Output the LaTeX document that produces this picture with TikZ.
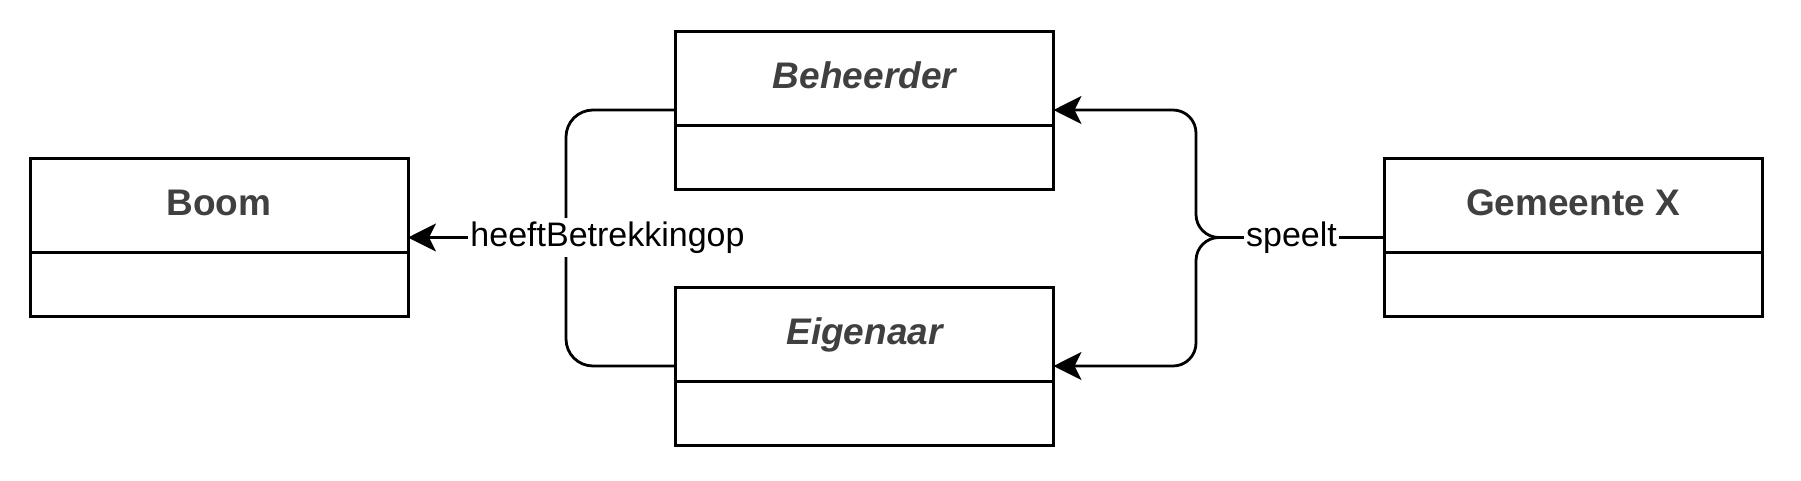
\documentclass[tikz,border=0pt]{standalone}
\usepackage{fontspec}
\setmainfont{Liberation Sans}
\usepackage{tikz}
\usetikzlibrary{positioning, arrows.meta}
\definecolor{titlegray}{HTML}{404040}

\begin{document}
\begin{tikzpicture}[x=1pt, y=-1pt,
		classbox/.style={draw, line width=3pt, minimum width=378pt, minimum height=158pt, inner sep=0pt, outer sep=0pt},
		classname/.style={font=\fontsize{37}{44}\selectfont\bfseries, text=titlegray, text height=26.5pt, text depth=0pt},
		abstractname/.style={classname, font=\fontsize{37}{44}\selectfont\bfseries\itshape},
		assoc/.style={line width=2.8pt},
		navarrow/.style={assoc, -{Stealth[length=28pt, width=28pt, inset=7pt]}},
		rolelabel/.style={fill=white, font=\fontsize{34}{41}\selectfont, inner xsep=2pt, inner ysep=4pt}]
		
		\path[use as bounding box, fill=white] (0,0) rectangle (1801,480);
		
		% Draw Classes
		\node[classbox] (boom) at (219,237.5) {};
		\node[classbox] (beheerder) at (864.5,110) {};
		\node[classbox, below=98pt of beheerder] (eigenaar) {};
		\node[classbox] (gemeente) at (1573,237.5) {};
		
		\foreach \cls/\name/\look in {boom/Boom/classname, beheerder/Beheerder/abstractname, eigenaar/Eigenaar/abstractname, gemeente/Gemeente X/classname} {
			\node[\look] (\cls-name) at ([yshift=-44pt]\cls.north) {\name};
			\draw[line width=3pt] ([yshift=64pt]\cls.south west) -- ([yshift=64pt]\cls.south east);
		}
		
		% Draw Associations
		\coordinate (left-join) at (566,237.5);
		\coordinate (right-join) at (1219,237.5);
		
		\draw[assoc, rounded corners=27pt] (beheerder.west) -| (left-join);
		\draw[assoc, rounded corners=27pt] (eigenaar.west) -| (left-join);
		\draw[navarrow] (left-join) -- (boom.east);
		
		\draw[assoc] (gemeente.west) -- (right-join);
		\draw[navarrow, rounded corners=23pt] (right-join) -- ++(-23,0) |- (beheerder.east);
		\draw[navarrow, rounded corners=23pt] (right-join) -- ++(-23,0) |- (eigenaar.east);
		
		% Labels
		\node[rolelabel] (heeft-label) at (607.5,237.5) {heeftBetrekkingop};
		\node[rolelabel] (speelt-label) at (1291.5,237.5) {speelt};
		
\end{tikzpicture}
\end{document}
